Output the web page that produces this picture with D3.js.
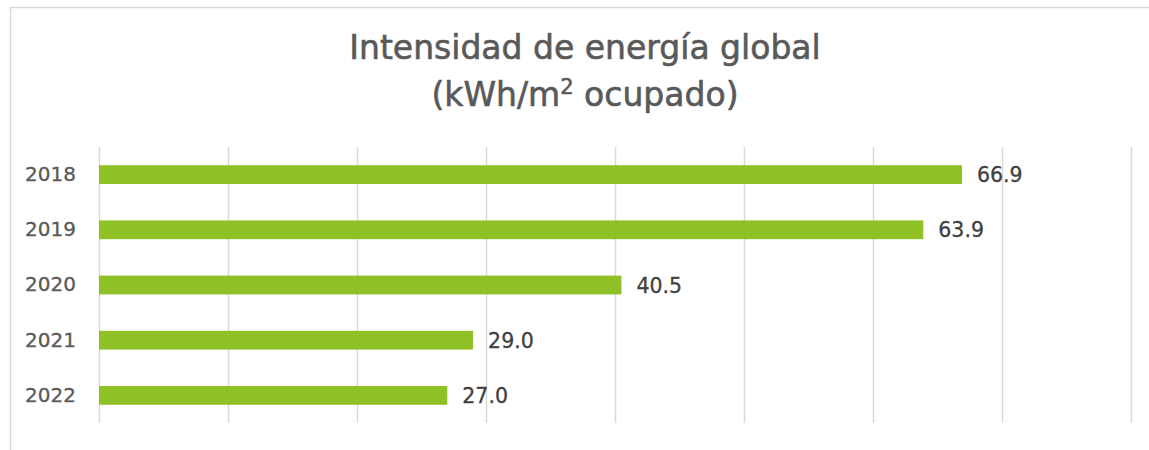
<!DOCTYPE html>
<html>
<head>
<meta charset="utf-8">
<script src="https://cdn.jsdelivr.net/npm/d3@7"></script>
<style>
  html, body { margin: 0; padding: 0; background: #fff; }
  svg { display: block; font-family: "DejaVu Sans", sans-serif; }
</style>
</head>
<body>
<script>
// chart data
const years = ["2018", "2019", "2020", "2021", "2022"];
const intensity = [66.9, 63.9, 40.5, 29.0, 27.0];
const xTicks = [0, 10, 20, 30, 40, 50, 60, 70, 80];

const width = 1149;
const height = 450;

const svg = d3.select("body")
  .append("svg")
  .attr("width", width)
  .attr("height", height);

// outer chart frame (right/bottom edges fall outside the crop)
svg.append("rect")
  .attr("x", 10.5)
  .attr("y", 7.5)
  .attr("width", 1300)
  .attr("height", 600)
  .attr("fill", "none")
  .attr("stroke", "#d9d9d9")
  .attr("stroke-width", 1.5);

// title, slightly heavier than regular weight
const title = svg.append("text")
  .attr("text-anchor", "middle")
  .attr("fill", "#595959")
  .attr("stroke", "#595959")
  .attr("stroke-width", 0.6)
  .style("font-size", "33px");
title.append("tspan")
  .attr("x", 585)
  .attr("y", 59)
  .text("Intensidad de energía global");
const line2 = title.append("tspan")
  .attr("x", 585)
  .attr("y", 106)
  .text("(kWh/m");
line2.append("tspan")
  .attr("dy", -12)
  .style("font-size", "21px")
  .text("2");
line2.append("tspan")
  .attr("dy", 12)
  .text(" ocupado)");

const x = d3.scaleLinear()
  .domain([0, 80])
  .range([99, 1131]);

const y = d3.scaleBand()
  .domain(years)
  .range([147, 423])
  .paddingInner(0.66)
  .paddingOuter(0.33);

// vertical gridlines
svg.append("g")
  .selectAll("line")
  .data(xTicks)
  .join("line")
    .attr("x1", (d) => Math.round(x(d)) + 0.5)
    .attr("x2", (d) => Math.round(x(d)) + 0.5)
    .attr("y1", 147)
    .attr("y2", 423)
    .attr("stroke", "#d9d9d9")
    .attr("stroke-width", 1.5);

// year labels
const yAxis = svg.append("g")
  .attr("transform", "translate(99,0)")
  .call(d3.axisLeft(y).tickSize(0).tickPadding(23));
yAxis.select(".domain").remove();
yAxis.selectAll("text")
  .attr("fill", "#595959")
  .attr("stroke", "#595959")
  .attr("stroke-width", 0.3)
  .style("font-family", "DejaVu Sans, sans-serif")
  .style("font-size", "20px");

const rows = years.map((yr, i) => ({year: yr, value: intensity[i]}));

// bars
svg.append("g")
  .selectAll("rect")
  .data(rows)
  .join("rect")
    .attr("x", x(0))
    .attr("y", (d) => y(d.year))
    .attr("width", (d) => x(d.value) - x(0))
    .attr("height", y.bandwidth())
    .attr("fill", "#8fc126");

// value labels
svg.append("g")
  .selectAll("text")
  .data(rows)
  .join("text")
    .attr("x", (d) => x(d.value) + 15)
    .attr("y", (d) => y(d.year) + y.bandwidth() / 2)
    .attr("dy", "0.37em")
    .attr("fill", "#404040")
    .attr("stroke", "#404040")
    .attr("stroke-width", 0.3)
    .style("font-size", "20.5px")
    .text((d) => d.value.toFixed(1));
</script>
</body>
</html>
